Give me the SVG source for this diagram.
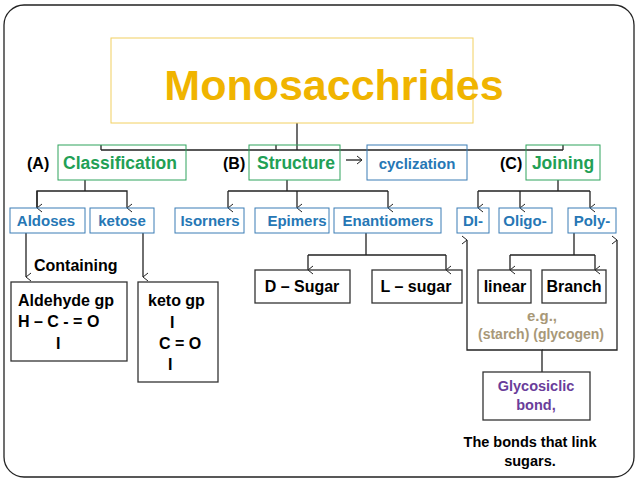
<svg xmlns="http://www.w3.org/2000/svg" width="638" height="479" viewBox="0 0 638 479">
<style>
text{font-family:"Liberation Sans",Arial,sans-serif;font-weight:bold}
.g{fill:none;stroke:#2ea35c;stroke-width:1}
.b{fill:none;stroke:#3b7db5;stroke-width:1}
.k{fill:none;stroke:#333;stroke-width:1.3}
.gt{fill:#22a055;font-size:17.5px}
.bt{fill:#2677b5;font-size:15px}
.kt{fill:#000;font-size:16px}
.ln{fill:none;stroke:#222;stroke-width:1.3}
</style>
<defs><marker id="a" markerWidth="10" markerHeight="10" refX="5" refY="8" orient="auto-start-reverse" markerUnits="userSpaceOnUse"><path d="M1,3 L5,8 L9,3" fill="none" stroke="#222" stroke-width="1"/></marker>
<marker id="h" markerWidth="10" markerHeight="10" refX="8" refY="5" orient="auto" markerUnits="userSpaceOnUse"><path d="M3,1 L8,5 L3,9" fill="none" stroke="#222" stroke-width="1"/></marker></defs>
<rect width="638" height="479" fill="#fff"/>
<rect x="4" y="5" width="630" height="472" rx="20" fill="none" stroke="#222" stroke-width="1.3"/>
<g id="connectors">
<path class="ln" d="M297,123V150M101,150H563M101,150V145M276,150V145M563,150V145"/>
<path class="ln" d="M85,180V191H37V208M85,191H127V208" marker-end="url(#a)"/>
<path class="ln" d="M37,191V208" marker-end="url(#a)"/>
<path class="ln" d="M287,180V191M228,191H388M228,191V208" marker-end="url(#a)"/>
<path class="ln" d="M297,191V208" marker-end="url(#a)"/>
<path class="ln" d="M388,191V208" marker-end="url(#a)"/>
<path class="ln" d="M558,180V191M478,191H590M478,191V208" marker-end="url(#a)"/>
<path class="ln" d="M520,191V208" marker-end="url(#a)"/>
<path class="ln" d="M590,191V208" marker-end="url(#a)"/>
<path class="ln" d="M346,160H362" marker-end="url(#h)"/>
<path class="ln" d="M26,233V277" marker-end="url(#a)"/>
<path class="ln" d="M143,233V277" marker-end="url(#a)"/>
<path class="ln" d="M366,233V255M308,255H446M308,255V270" marker-end="url(#a)"/>
<path class="ln" d="M446,255V270" marker-end="url(#a)"/>
<path class="ln" d="M574,233V255M510,255H595M510,255V270" marker-end="url(#a)"/>
<path class="ln" d="M595,255V270" marker-end="url(#a)"/>
<path class="ln" d="M542,372V350H467V240" marker-end="url(#a)"/>
<path class="ln" d="M542,350H617V240" marker-end="url(#a)"/>
</g>
<g id="title"><rect x="111" y="38" width="362" height="85" fill="none" stroke="#f2d060" stroke-width="1"/>
<text x="334" y="100" text-anchor="middle" font-size="43" fill="#f0b400">Monosacchrides</text></g>
<g id="classification"><text x="27" y="169" class="kt" font-size="17">(A)</text><rect class="g" x="58" y="145" width="128" height="35"/><text x="120" y="169" text-anchor="middle" class="gt">Classification</text></g>
<g id="structure"><text x="223" y="169" class="kt" font-size="17">(B)</text><rect class="g" x="249" y="145" width="91" height="35"/><text x="296" y="169" text-anchor="middle" class="gt">Structure</text></g>
<g id="cyclization"><rect class="b" x="367" y="145" width="100" height="35"/><text x="417" y="169" text-anchor="middle" class="bt" font-size="17">cyclization</text></g>
<g id="joining"><text x="500" y="169" class="kt" font-size="17">(C)</text><rect class="g" x="526" y="145" width="74" height="35"/><text x="563" y="169" text-anchor="middle" class="gt">Joining</text></g>
<g id="aldoses"><rect class="b" x="10" y="208" width="75" height="25"/><text x="46" y="226" text-anchor="middle" class="bt">Aldoses</text></g>
<g id="ketose"><rect class="b" x="90" y="208" width="64" height="25"/><text x="122" y="226" text-anchor="middle" class="bt">ketose</text></g>
<g id="isorners"><rect class="b" x="175" y="208" width="69" height="25"/><text x="210" y="226" text-anchor="middle" class="bt">Isorners</text></g>
<g id="epimers"><rect class="b" x="255" y="208" width="74" height="25"/><text x="297" y="226" text-anchor="middle" class="bt">Epimers</text></g>
<g id="enantiomers"><rect class="b" x="334" y="208" width="107" height="25"/><text x="388" y="226" text-anchor="middle" class="bt">Enantiomers</text></g>
<g id="di"><rect class="b" x="457" y="208" width="32" height="25"/><text x="473" y="226" text-anchor="middle" class="bt">DI-</text></g>
<g id="oligo"><rect class="b" x="499" y="208" width="53" height="25"/><text x="525" y="226" text-anchor="middle" class="bt">Oligo-</text></g>
<g id="poly"><rect class="b" x="568" y="208" width="48" height="25"/><text x="592" y="226" text-anchor="middle" class="bt">Poly-</text></g>
<g id="containing"><text x="34" y="271" class="kt" font-size="17">Containing</text></g>
<g id="aldehyde"><rect class="k" x="11" y="282" width="116" height="79"/><text class="kt" x="18" y="306">Aldehyde gp</text><text class="kt" x="18" y="327">H – C - = O</text><text class="kt" x="56" y="349">I</text></g>
<g id="keto"><rect class="k" x="138" y="282" width="80" height="100"/><text class="kt" x="148" y="306">keto gp</text><text class="kt" x="170" y="328">I</text><text class="kt" x="159" y="349">C = O</text><text class="kt" x="168" y="370">I</text></g>
<g id="dsugar"><rect class="k" x="255" y="270" width="95" height="33"/><text class="kt" x="302" y="292" text-anchor="middle">D – Sugar</text></g>
<g id="lsugar"><rect class="k" x="372" y="270" width="90" height="33"/><text class="kt" x="416" y="292" text-anchor="middle">L – sugar</text></g>
<g id="linear"><rect class="k" x="478" y="270" width="53" height="33"/><text class="kt" x="505" y="292" text-anchor="middle">linear</text></g>
<g id="branch"><rect class="k" x="542" y="270" width="64" height="33"/><text class="kt" x="574" y="292" text-anchor="middle">Branch</text></g>
<g id="eg"><text x="542" y="321" text-anchor="middle" font-size="15" fill="#a89878">e.g.,</text><text x="541" y="339" text-anchor="middle" font-size="14" fill="#a89878">(starch) (glycogen)</text></g>
<g id="glyco"><rect class="k" x="483" y="372" width="107" height="48"/><text x="536" y="391" text-anchor="middle" font-size="14.5" fill="#6a3d9a">Glycosiclic</text><text x="536" y="410" text-anchor="middle" font-size="14.5" fill="#6a3d9a">bond,</text></g>
<g id="note"><text x="530" y="447" text-anchor="middle" font-size="14.5" fill="#000">The bonds that link</text><text x="530" y="466" text-anchor="middle" font-size="14.5" fill="#000">sugars.</text></g>
</svg>
